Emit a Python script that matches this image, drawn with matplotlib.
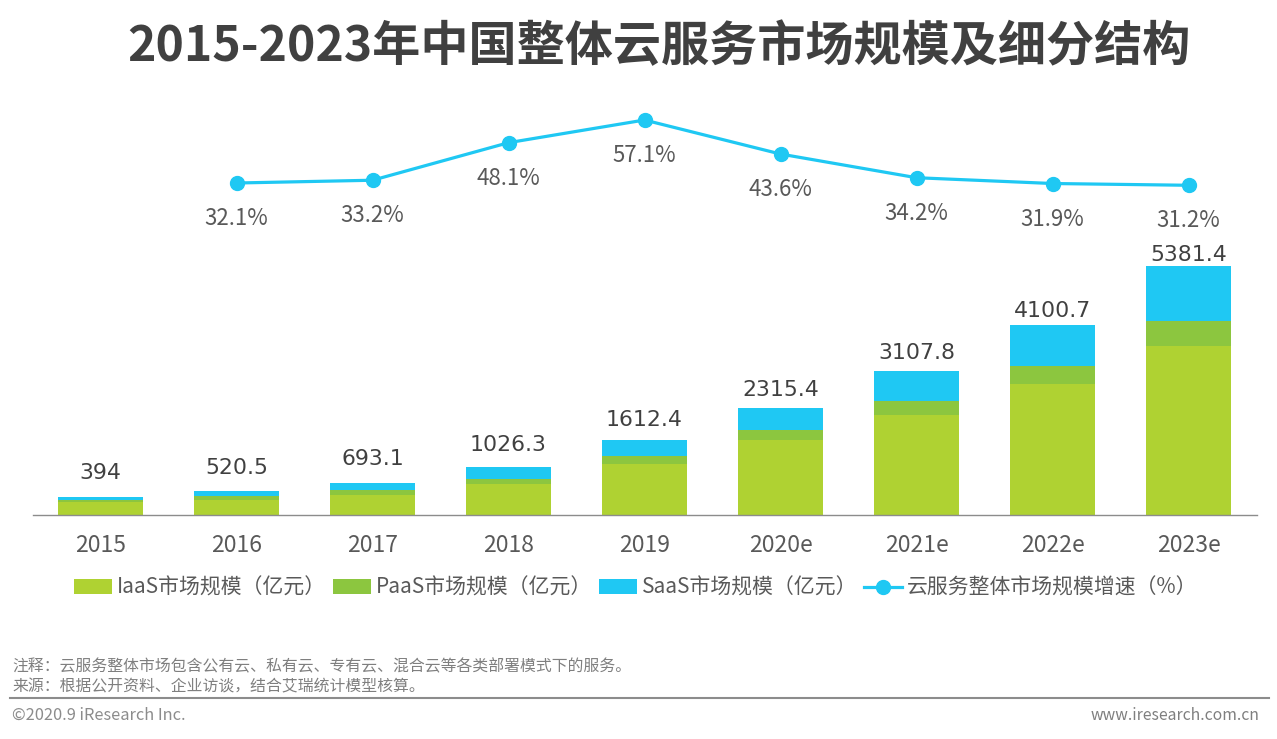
import matplotlib
matplotlib.use("Agg")
import matplotlib.pyplot as plt
from matplotlib.lines import Line2D

plt.rcParams['font.family'] = ['Noto Sans CJK SC', 'DejaVu Sans']

years = ['2015', '2016', '2017', '2018', '2019', '2020e', '2021e', '2022e', '2023e']
totals = [394, 520.5, 693.1, 1026.3, 1612.4, 2315.4, 3107.8, 4100.7, 5381.4]
total_labels = ['394', '520.5', '693.1', '1026.3', '1612.4', '2315.4', '3107.8', '4100.7', '5381.4']
iaas = [276, 334, 442, 658, 1110, 1628, 2153, 2815, 3645]
paas = [43, 71, 93, 129, 158, 216, 302, 395, 535]
saas = [75, 115.5, 158.1, 239.3, 344.4, 471.4, 652.8, 890.7, 1201.4]
growth_years = years[1:]
growth = [32.1, 33.2, 48.1, 57.1, 43.6, 34.2, 31.9, 31.2]
series_names = ['IaaS市场规模（亿元）', 'PaaS市场规模（亿元）', 'SaaS市场规模（亿元）', '云服务整体市场规模增速（%）']
title = '2015-2023年中国整体云服务市场规模及细分结构'
note1 = '注释：云服务整体市场包含公有云、私有云、专有云、混合云等各类部署模式下的服务。'
note2 = '来源：根据公开资料、企业访谈，结合艾瑞统计模型核算。'
copyright_text = '©2020.9 iResearch Inc.'
site = 'www.iresearch.com.cn'

C_I, C_P, C_S = '#AFD232', '#8CC63F', '#1FC8F3'
W, H = 1277, 739
PX = 72 / 100  # points per pixel at dpi 100
label_gap_px = [24, 23, 24, 22, 20, 18, 18, 14, 11]

fig = plt.figure(figsize=(W / 100, H / 100), dpi=100, facecolor='white')
ax = fig.add_axes([32.5 / W, 1 - 515 / H, 1224 / W, 415 / H])
ax.set_xlim(-0.5, 8.5)
ax.set_ylim(0, 415 * 21.57)
xs = list(range(len(years)))
bottom2 = [a + b for a, b in zip(iaas, paas)]
b1 = ax.bar(xs, iaas, 0.625, color=C_I)
b2 = ax.bar(xs, paas, 0.625, bottom=iaas, color=C_P)
b3 = ax.bar(xs, saas, 0.625, bottom=bottom2, color=C_S)
for x, t, lab, gap in zip(xs, totals, total_labels, label_gap_px):
    ax.annotate(lab, (x, t), xytext=(0, gap * PX), textcoords='offset points', ha='center', va='center',
                fontsize=15.8, color='#404040', family='DejaVu Sans')
ax.set_xticks(xs, years)
ax.tick_params(axis='x', length=0, pad=13.5, labelsize=16.5, labelcolor='#595959')
ax.set_yticks([])
for s in ['top', 'left', 'right']:
    ax.spines[s].set_visible(False)
ax.spines['bottom'].set_color('#8c8c8c')
ax.spines['bottom'].set_linewidth(1)
ax.patch.set_alpha(0)

ax2 = ax.twinx()
ax2.set_ylim(65.04 - 415 / 2.52, 65.04)
ax2.set_yticks([])
for s in ax2.spines.values():
    s.set_visible(False)
ax2.plot(xs[1:], growth, color=C_S, lw=2.3, marker='o', ms=10, solid_capstyle='round')
for x, g in zip(xs[1:], growth):
    ax2.annotate(f'{g}%', (x, g), xytext=(0, -35.5 * PX), textcoords='offset points', ha='center', va='center',
                 fontsize=16, color='#595959')

handles = [b1, b2, b3, Line2D([], [], color=C_S, lw=2.3, marker='o', ms=10)]
fig.legend(handles, series_names, ncol=4, loc='center left', bbox_to_anchor=(74 / W, 1 - 588 / H),
           frameon=False, fontsize=15, labelcolor='#595959', handlelength=1.83, handleheight=0.7,
           handletextpad=0.22, columnspacing=0.34, borderpad=0, borderaxespad=0)

fig.text(0.5 * (127 + 1190) / W, 1 - 47 / H, title, ha='center', va='center', fontsize=34.65,
         fontweight='bold', color='#404040')
fig.text(12 / W, 1 - 667 / H, note1, ha='left', va='center', fontsize=11.4, color='#7f7f7f')
fig.text(12 / W, 1 - 687 / H, note2, ha='left', va='center', fontsize=11.4, color='#7f7f7f')
fig.add_artist(Line2D([10 / W, 1269 / W], [1 - 698 / H, 1 - 698 / H], color='#8c8c8c', lw=1.5))
fig.text(12 / W, 1 - 715 / H, copyright_text, ha='left', va='center', fontsize=11.8, color='#8c8c8c')
fig.text(1259 / W, 1 - 715 / H, site, ha='right', va='center', fontsize=11.3, color='#7f7f7f')
fig.savefig('out.png', dpi=100)
